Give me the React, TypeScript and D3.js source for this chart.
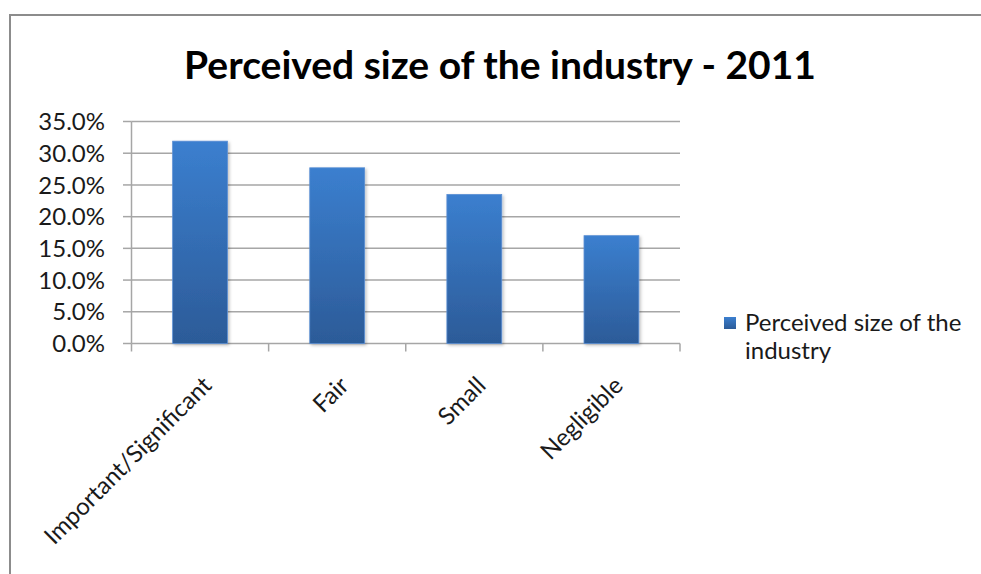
import React from "react";
import * as d3 from "d3";

const categories = ["Important/Significant", "Fair", "Small", "Negligible"];
const values = [31.9, 27.7, 23.5, 17.0];
const yTicks = [0, 5, 10, 15, 20, 25, 30, 35];
const seriesName = "Perceived size of the industry";
const title = "Perceived size of the industry - 2011";

const W = 981;
const H = 574;
const FONT = "Lato, 'Open Sans', sans-serif";

export default function App() {
  const x = d3.scaleBand<string>().domain(categories).range([131.5, 680]).paddingInner(0.6).paddingOuter(0.3);
  const xOuter = d3.scaleBand<string>().domain(categories).range([131.5, 680]);
  const y = d3.scaleLinear().domain([0, 35]).range([343.5, 121.5]);
  const gridColor = "#a6a6a6";

  return (
    <svg width={W} height={H} style={{ position: "absolute", left: 0, top: 0, background: "#fff" }}>
      <defs>
        <linearGradient id="barGrad" x1="0" y1="0" x2="0" y2="1">
          <stop offset="0%" stopColor="#3b7fcf" />
          <stop offset="100%" stopColor="#2c5b98" />
        </linearGradient>
        <filter id="shadow" x="-20%" y="-10%" width="140%" height="120%">
          <feDropShadow dx="1.5" dy="1.5" stdDeviation="1.5" floodColor="#000" floodOpacity="0.25" />
        </filter>
      </defs>
      <rect x={0} y={0} width={W} height={H} fill="#fff" />
      {/* frame */}
      <path d={`M10,${H} L10,15 L${W},15`} fill="none" stroke="#8c8c8c" strokeWidth={2} />

      <text x={500} y={79} textAnchor="middle" fontFamily={FONT} fontWeight="bold" fontSize={39} fill="#000">
        {title}
      </text>

      {/* gridlines */}
      {yTicks.map((t) => (
        <line key={t} x1={131.5} x2={680} y1={y(t)} y2={y(t)} stroke={gridColor} strokeWidth={1.5} />
      ))}
      {/* y axis */}
      <line x1={131.5} x2={131.5} y1={y(35)} y2={y(0)} stroke={gridColor} strokeWidth={1.5} />
      {yTicks.map((t) => (
        <line key={"yt" + t} x1={123} x2={131.5} y1={y(t)} y2={y(t)} stroke={gridColor} strokeWidth={1.5} />
      ))}
      {yTicks.map((t) => (
        <text key={"yl" + t} x={105} y={y(t)} dy="0.36em" textAnchor="end" fontFamily={FONT} fontSize={24} fill="#1a1a1a">
          {t.toFixed(1) + "%"}
        </text>
      ))}
      {/* x ticks */}
      {[...categories.map((c) => xOuter(c)!), 680].map((v, i) => (
        <line key={"xt" + i} x1={v} x2={v} y1={y(0)} y2={y(0) + 8} stroke={gridColor} strokeWidth={1.5} />
      ))}

      {/* bars */}
      {categories.map((c, i) => (
        <rect
          key={c}
          x={x(c)}
          y={y(values[i])}
          width={x.bandwidth()}
          height={y(0) - y(values[i])}
          fill="url(#barGrad)"
          stroke="#5b8fd4"
          strokeWidth={0.8}
          filter="url(#shadow)"
        />
      ))}

      {/* x labels */}
      {categories.map((c) => {
        const cx = xOuter(c)! + xOuter.bandwidth() / 2;
        return (
          <text
            key={"xl" + c}
            transform={`translate(${cx + 13},${387}) rotate(-45)`}
            textAnchor="end"
            fontFamily={FONT}
            fontSize={24}
            fill="#1a1a1a"
          >
            {c}
          </text>
        );
      })}

      {/* legend */}
      <rect x={724} y={317} width={12} height={12} fill="url(#barGrad)" />
      <text x={745} y={331} fontFamily={FONT} fontSize={24} fill="#1a1a1a">
        Perceived size of the
      </text>
      <text x={745} y={359} fontFamily={FONT} fontSize={24} fill="#1a1a1a">
        industry
      </text>
    </svg>
  );
}
